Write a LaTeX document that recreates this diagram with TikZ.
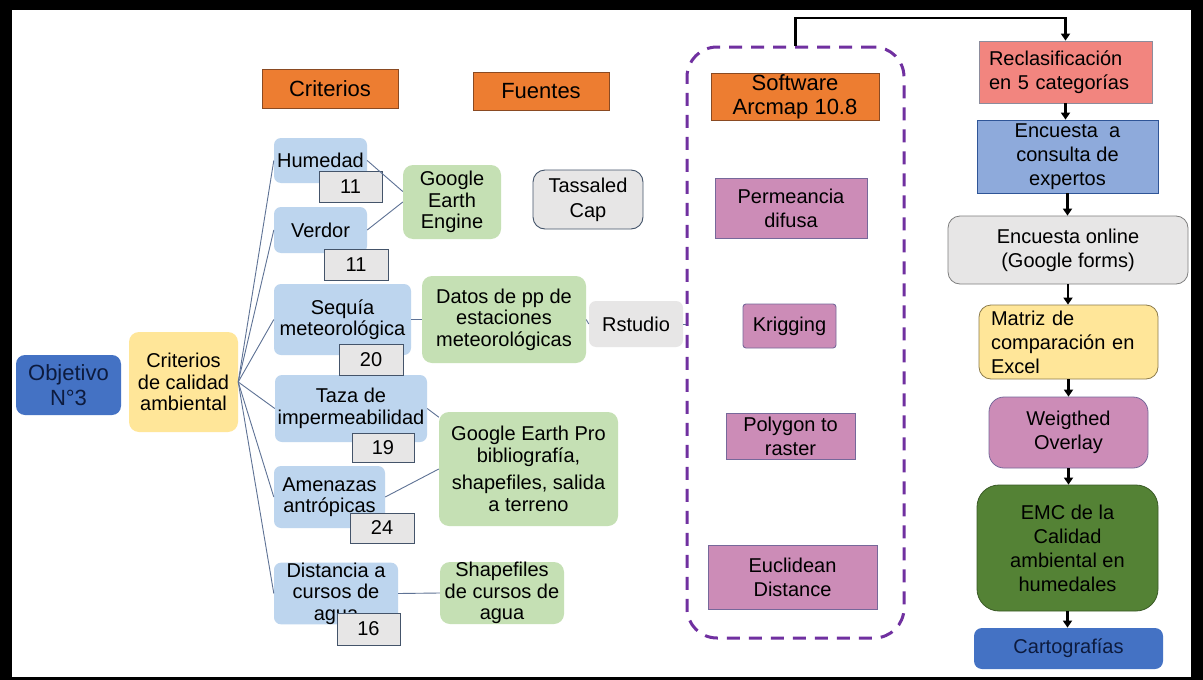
\documentclass[tikz,border=0pt]{standalone}
\usepackage{fontspec}
\setmainfont{Liberation Sans}
\usetikzlibrary{arrows.meta}
\definecolor{lblue}{HTML}{BDD5EE}
\definecolor{lgreen}{HTML}{C5E0B4}
\definecolor{lgray}{HTML}{E7E6E6}
\definecolor{orng}{HTML}{ED7D31}
\definecolor{orngb}{HTML}{8A4A22}
\definecolor{pnk}{HTML}{CC8CB7}
\definecolor{pnkb}{HTML}{76689A}
\definecolor{purp}{HTML}{7030A0}
\definecolor{ylw}{HTML}{FFE699}
\definecolor{ylwb}{HTML}{8C7B4C}
\definecolor{mblue}{HTML}{4472C4}
\definecolor{sblue}{HTML}{8EAADB}
\definecolor{sblueb}{HTML}{2F5597}
\definecolor{salm}{HTML}{F2857F}
\definecolor{salmb}{HTML}{8C8C9C}
\definecolor{dgreen}{HTML}{548235}
\definecolor{dgreenb}{HTML}{3A5A26}
\definecolor{conn}{HTML}{5E7295}
\definecolor{slate}{HTML}{44546A}
\definecolor{navytxt}{HTML}{0D1B3E}
\definecolor{grayb}{HTML}{7F7F7F}
\newcommand{\mkbox}[7]{%
  \pgfmathsetmacro{\mkbw}{#4-#2}\pgfmathsetmacro{\mkbh}{#5-#3}%
  \pgfmathsetmacro{\mkcx}{(#2+#4)/2}\pgfmathsetmacro{\mkcy}{(#3+#5)/2}%
  \node[#6, minimum width=\mkbw pt, minimum height=\mkbh pt] (#1) at (\mkcx,\mkcy) {#7};}
\begin{document}
\begin{tikzpicture}[x=1pt,y=-1pt,
  every node/.style={font=\fontsize{20}{21.5}\selectfont, align=center, inner sep=0pt, text=black},
  hdr/.style={fill=orng, draw=orngb, line width=0.8pt, font=\fontsize{22}{24}\selectfont},
  crit/.style={fill=lblue, rounded corners=7pt},
  num/.style={fill=lgray, draw=slate, line width=1pt},
  src/.style={fill=lgreen, rounded corners=10pt},
  tool/.style={fill=pnk, draw=pnkb, line width=0.9pt, font=\fontsize{20}{24}\selectfont},
  rcol/.style={line width=0.8pt, font=\fontsize{20}{24}\selectfont},
  dboxst/.style={draw=purp, line width=3pt, dash pattern=on 13pt off 9pt, rounded corners=30pt},
  link/.style={draw=conn, line width=0.9pt},
  flow/.style={draw=black, line width=2.6pt, -{Triangle[width=9pt,length=7pt]}}
]
\useasboundingbox (0,0) rectangle (1203,680);
\fill[black] (0,0) rectangle (1203,680);
\fill[white] (12,10) rectangle (1191,677);

% headers and dashed group
\mkbox{hcrit}{262}{69}{398}{108}{hdr}{Criterios}
\mkbox{hfue}{473}{72}{609}{110}{hdr}{Fuentes}
\mkbox{dbox}{687}{47}{904}{638}{dboxst}{}
\mkbox{hsoft}{711}{73}{879}{120}{hdr}{Software\\Arcmap 10.8}

% left
\mkbox{obj}{16}{355}{121}{415}{fill=mblue, rounded corners=9pt, font=\fontsize{22}{25}\selectfont, text=navytxt}{Objetivo\\N°3}
\mkbox{cal}{129}{332}{238}{432}{fill=ylw, rounded corners=10pt}{Criterios\\de calidad\\ambiental}

% criteria
\mkbox{hum}{274}{138}{367}{183}{crit}{Humedad}
\mkbox{ver}{274}{207}{367}{253}{crit}{Verdor}
\mkbox{seq}{274}{284}{411}{355}{crit}{Sequía\\meteorológica}
\mkbox{taz}{275}{375}{427}{442}{crit}{Taza de\\impermeabilidad}
\mkbox{ame}{274}{466}{385}{528}{crit}{Amenazas\\antrópicas}
\mkbox{dis}{274}{563}{398}{624}{crit}{Distancia a\\cursos de\\agua}

% sources
\mkbox{gee}{403}{165}{501}{239}{src}{Google\\Earth\\Engine}
\mkbox{dat}{422}{276}{586}{363}{src}{Datos de pp de\\estaciones\\meteorológicas}
\mkbox{gep}{439}{412}{618}{526}{src}{Google Earth Pro\\bibliografía,\\[6pt]shapefiles, salida\\a terreno}
\mkbox{shp}{440}{562}{564}{624}{src}{Shapefiles\\de cursos de\\agua}
\mkbox{tas}{533}{170}{643}{229}{fill=lgray, draw=slate, line width=0.9pt, rounded corners=12pt, font=\fontsize{20}{25}\selectfont}{Tassaled\\Cap}
\mkbox{rst}{589}{301}{683}{347}{fill=lgray, rounded corners=7pt}{Rstudio}

% tools
\mkbox{per}{715}{178}{867}{238}{tool}{Permeancia\\difusa}
\mkbox{kri}{743}{304}{836}{348}{tool, rounded corners=3pt}{Krigging}
\mkbox{pol}{726}{413}{855}{459}{tool}{Polygon to\\raster}
\mkbox{euc}{708}{545}{877}{609}{tool}{Euclidean\\Distance}

% right column
\mkbox{rec}{979}{41}{1152}{103}{rcol, fill=salm, draw=salmb, align=left, text width=153pt}{Reclasificación\\en 5 categorías}
\mkbox{enc}{977}{120}{1158}{193}{rcol, fill=sblue, draw=sblueb}{Encuesta\ \ a\\consulta de\\expertos}
\mkbox{onl}{948}{216}{1188}{284}{rcol, fill=lgray, draw=grayb, rounded corners=12pt}{Encuesta online\\(Google forms)}
\mkbox{mat}{979}{305}{1158}{379}{rcol, fill=ylw, draw=ylwb, rounded corners=12pt, align=left, text width=155pt}{Matriz de\\comparación en\\Excel}
\mkbox{wei}{989}{397}{1148}{468}{rcol, fill=pnk, draw=pnkb, rounded corners=15pt}{Weigthed\\Overlay}
\mkbox{emc}{977}{485}{1158}{611}{rcol, fill=dgreen, draw=dgreenb, rounded corners=22pt}{EMC de la\\Calidad\\ambiental en\\humedales}
\mkbox{car}{974}{628}{1163}{669}{rcol, fill=mblue, rounded corners=8pt, text=navytxt}{Cartografías}

% numbers
\mkbox{n1}{319}{171}{382}{202}{num}{11}
\mkbox{n2}{324}{249}{388}{280}{num}{11}
\mkbox{n3}{339}{344}{403}{375}{num}{20}
\mkbox{n4}{352}{433}{414}{462}{num}{19}
\mkbox{n5}{350}{513}{414}{543}{num}{24}
\mkbox{n6}{337}{613}{400}{645}{num}{16}

% links
\foreach \t in {hum,ver,seq,taz,ame,dis} \draw[link] (cal.east) -- (\t.west);
\draw[link] (hum.east) -- (gee.168);
\draw[link] (ver.east) -- (gee.west);
\draw[link] (seq.east) -- (dat.west);
\draw[link] (dat.east) -- (rst.west);
\draw[link] (rst.east) -- (rst.east -| dbox.west);
\draw[link] (taz.east) -- (gep.150);
\draw[link] (ame.east) -- (gep.west);
\draw[link] (dis.east) -- (shp.west);

% flow
\coordinate (topc) at (795.5,18);
\draw[flow] (dbox.north) -- (dbox.north |- topc) -| (rec.north);
\draw[flow] (rec.south) -- (rec.south |- enc.north);
\draw[flow] (enc.south) -- (enc.south |- onl.north);
\draw[flow] (onl.south) -- (onl.south |- mat.north);
\draw[flow] (mat.south) -- (mat.south |- wei.north);
\draw[flow] (wei.south) -- (wei.south |- emc.north);
\draw[flow] (emc.south) -- (emc.south |- car.north);
\end{tikzpicture}
\end{document}
